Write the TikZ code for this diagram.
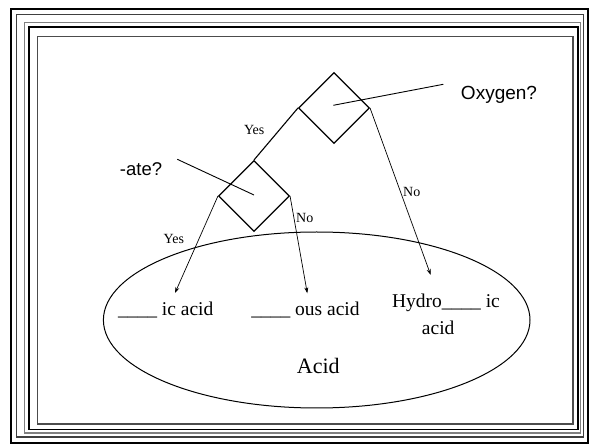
\documentclass[tikz,border=0pt]{standalone}
\usepackage{fontspec}
\setmainfont{Liberation Serif}
\newfontfamily\arialf{Liberation Sans}
\usetikzlibrary{shapes.geometric,arrows.meta}
\tikzset{
  decision/.style={diamond, draw, line width=1.1pt, minimum width=71pt, minimum height=71pt, inner sep=0pt, aspect=1},
  flowarrow/.style={line width=0.7pt, -{Stealth[length=6pt,width=4pt]}},
  pointer/.style={line width=0.9pt},
  smalllbl/.style={font=\fontsize{14}{16}\selectfont, inner sep=0pt, anchor=base},
  biglbl/.style={font=\fontsize{19.5}{27.5}\selectfont, inner sep=0pt, anchor=base},
  sanslbl/.style={font=\arialf\fontsize{19}{23}\selectfont, inner sep=0pt, anchor=base},
}
\begin{document}
\begin{tikzpicture}[x=1pt,y=-1pt]
\useasboundingbox (0,0) rectangle (590,446);
\fill[white] (0,0) rectangle (590,446);
% frame
\draw[line width=2pt,black] (10.5,9.5) rectangle (587.5,443.5);
\draw[line width=1.4pt,black!75] (16.5,14.5) rectangle (583.5,437);
\draw[line width=1.4pt,black!50] (24.5,22.5) rectangle (580.5,433);
\draw[line width=1.2pt,black] (29,27) rectangle (578,429.5);
\draw[line width=1.2pt,black!70] (37.5,36.5) rectangle (573,424);
% ellipse
\node[ellipse, draw, line width=1pt, minimum width=426.6pt, minimum height=176pt, inner sep=0pt] (acidell) at (316.7,320) {};
% diamonds
\node[decision] (ox) at (334,108) {};
\node[decision] (ate) at (254,196) {};
% coordinates
\coordinate (oxp) at (333.3,105.3);
\coordinate (oxq) at (443.3,84.3);
\coordinate (atep) at (177.3,159.3);
\coordinate (ateq) at (254,195);
\coordinate (ictip) at (175,293);
\coordinate (oustip) at (307.3,293.3);
\coordinate (hydtip) at (430.7,275);
% connectors
\draw[line width=1.1pt] (ox.west) -- (ate.north);
\draw[pointer] (oxp) -- (oxq);
\draw[pointer] (atep) -- (ateq);
\draw[flowarrow] (ate.west) -- (ictip);
\draw[flowarrow] (ate.east) -- (oustip);
\draw[flowarrow] (ox.east) -- (hydtip);
% labels
\node[smalllbl] (yes1) at (254.2,135) {Yes};
\node[smalllbl] (yes2) at (173.8,243.3) {Yes};
\node[smalllbl] (no1) at (411.7,196.7) {No};
\node[smalllbl] (no2) at (304.7,223) {No};
\node[sanslbl] (oxlbl) at (499,99.5) {Oxygen?};
\node[sanslbl, font=\arialf\fontsize{18.5}{22}\selectfont] (atelbl) at (141,176) {-ate?};
\node[biglbl] (ic) at (165.7,316) {\_\_\_\_ ic acid};
\node[biglbl] (ous) at (305.5,316) {\_\_\_\_ ous acid};
\node[biglbl, align=center] (hydro) at (446,335) {Hydro\_\_\_\_ ic\\acid\hspace*{0.8em}};
\node[font=\fontsize{22}{26}\selectfont, inner sep=0pt, anchor=base] (acid) at (318.3,373.3) {Acid};
\end{tikzpicture}
\end{document}
